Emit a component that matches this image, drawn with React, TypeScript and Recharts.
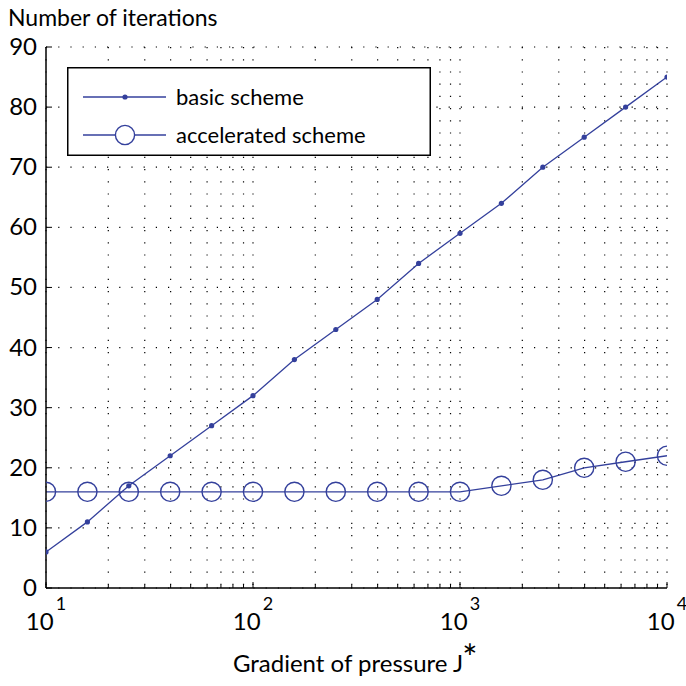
import { CartesianGrid, Line, LineChart, XAxis, YAxis } from "recharts";

// pressure gradient J* (log axis), one point every fifth of a decade
const J_VALUES = [
  10, 15.85, 25.12, 39.81, 63.1, 100, 158.5, 251.2, 398.1, 631, 1000, 1585, 2512, 3981,
  6310, 10000,
];
const BASIC_ITERS = [6, 11, 17, 22, 27, 32, 38, 43, 48, 54, 59, 64, 70, 75, 80, 85];
const ACCEL_ITERS = [16, 16, 16, 16, 16, 16, 16, 16, 16, 16, 16, 17, 18, 20, 21, 22];

const X_MAJOR = [10, 100, 1000, 10000];
const X_TICKS = [
  10, 20, 30, 40, 50, 60, 70, 80, 90, 100, 200, 300, 400, 500, 600, 700, 800, 900, 1000,
  2000, 3000, 4000, 5000, 6000, 7000, 8000, 9000, 10000,
];
const Y_TICKS = [0, 10, 20, 30, 40, 50, 60, 70, 80, 90];

const data = J_VALUES.map((j, i) => ({ j, basic: BASIC_ITERS[i], accel: ACCEL_ITERS[i] }));

const BLUE = "#34409c";
const FONT = "Lato, 'Liberation Sans', sans-serif";

function XTick(props: any) {
  const { x, y, payload, top } = props;
  const major = X_MAJOR.includes(payload.value);
  const len = major ? 6 : 3;
  const dir = top ? 1 : -1;
  return (
    <g>
      <line x1={x} y1={y} x2={x} y2={y + dir * len} stroke="#000" strokeWidth={1} />
      {major && !top && (
        <text x={x} y={y + 42} textAnchor="middle" fontSize={24} fontFamily={FONT} fill="#000">
          <tspan>10</tspan>
          <tspan dx={2} dy={-20} fontSize={18}>
            {Math.round(Math.log10(payload.value))}
          </tspan>
        </text>
      )}
    </g>
  );
}

function YTick(props: any) {
  const { x, y, payload, right } = props;
  const dir = right ? -1 : 1;
  return (
    <g>
      <line x1={x} y1={y} x2={x + dir * 6} y2={y} stroke="#000" strokeWidth={1} />
      {!right && (
        <text x={x - 9} y={y + 8} textAnchor="end" fontSize={24} fontFamily={FONT} fill="#000">
          {payload.value}
        </text>
      )}
    </g>
  );
}

function SmallDot(props: any) {
  const { cx, cy } = props;
  return <circle cx={cx} cy={cy} r={2.6} fill={BLUE} />;
}

function RingDot(props: any) {
  const { cx, cy } = props;
  return <circle cx={cx} cy={cy} r={9.6} fill="none" stroke={BLUE} strokeWidth={1.4} />;
}

function LegendBox() {
  return (
    <svg
      width={364}
      height={89}
      style={{ position: "absolute", left: 67, top: 67, display: "block" }}
    >
      <rect x={0.75} y={0.75} width={362.5} height={87.5} fill="#fff" stroke="#000" strokeWidth={1.5} />
      <line x1={16} y1={30} x2={99} y2={30} stroke={BLUE} strokeWidth={1.3} />
      <circle cx={58} cy={30} r={2.6} fill={BLUE} />
      <text x={109} y={38} fontSize={22} fontFamily={FONT} fill="#000">
        basic scheme
      </text>
      <line x1={16} y1={68} x2={99} y2={68} stroke={BLUE} strokeWidth={1.3} />
      <circle cx={58} cy={68} r={9.6} fill="#fff" stroke={BLUE} strokeWidth={1.4} />
      <text x={109} y={76} fontSize={22} fontFamily={FONT} fill="#000">
        accelerated scheme
      </text>
    </svg>
  );
}

export default function App() {
  return (
    <div style={{ position: "absolute", left: 0, top: 0, width: 686, height: 686, background: "#fff" }}>
      <LineChart
        width={686}
        height={686}
        data={data}
        margin={{ top: 47, right: 19, bottom: 58, left: 0 }}
      >
        <CartesianGrid stroke="#000" strokeWidth={1.2} strokeDasharray="1.2 11" />
        <XAxis
          dataKey="j"
          type="number"
          scale="log"
          domain={[10, 10000]}
          ticks={X_TICKS}
          interval={0}
          height={40}
          tickSize={0}
          tickMargin={0}
          tickLine={false}
          tick={<XTick />}
          axisLine={{ stroke: "#000", strokeWidth: 1.5 }}
          allowDataOverflow
        />
        <XAxis
          xAxisId="top"
          orientation="top"
          dataKey="j"
          type="number"
          scale="log"
          domain={[10, 10000]}
          ticks={X_TICKS}
          interval={0}
          height={0}
          tickSize={0}
          tickMargin={0}
          tickLine={false}
          tick={<XTick top />}
          axisLine={{ stroke: "#000", strokeWidth: 1.5 }}
          allowDataOverflow
        />
        <YAxis
          type="number"
          domain={[0, 90]}
          ticks={Y_TICKS}
          interval={0}
          width={46}
          tickSize={0}
          tickMargin={0}
          tickLine={false}
          tick={<YTick />}
          axisLine={{ stroke: "#000", strokeWidth: 1.5 }}
        />
        <YAxis
          yAxisId="right"
          orientation="right"
          type="number"
          domain={[0, 90]}
          ticks={Y_TICKS}
          interval={0}
          width={0}
          tickSize={0}
          tickMargin={0}
          tickLine={false}
          tick={<YTick right />}
          axisLine={{ stroke: "#000", strokeWidth: 1.5 }}
        />
        <Line
          dataKey="basic"
          type="linear"
          stroke={BLUE}
          strokeWidth={1.3}
          dot={<SmallDot />}
          isAnimationActive={false}
        />
        <Line
          dataKey="accel"
          type="linear"
          stroke={BLUE}
          strokeWidth={1.3}
          dot={<RingDot />}
          isAnimationActive={false}
        />
      </LineChart>
      <LegendBox />
      <svg
        width={686}
        height={686}
        style={{ position: "absolute", left: 0, top: 0, pointerEvents: "none" }}
      >
        <text x={8} y={26} fontSize={23} fontFamily={FONT} fill="#000">
          Number of iterations
        </text>
        <text x={348} y={672} textAnchor="middle" fontSize={24} fontFamily={FONT} fill="#000">
          Gradient of pressure J
        </text>
        <text x={470} y={671} textAnchor="middle" fontSize={36} fontFamily={FONT} fill="#000">
          *
        </text>
      </svg>
    </div>
  );
}
